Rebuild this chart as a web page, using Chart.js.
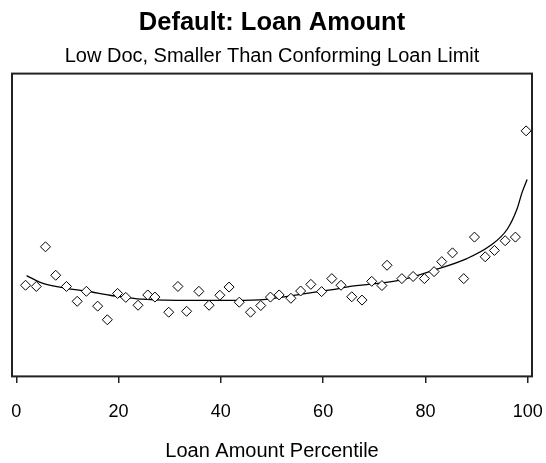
<!DOCTYPE html>
<html>
<head>
<meta charset="utf-8">
<script src="https://cdn.jsdelivr.net/npm/chart.js@4.4.0/dist/chart.umd.min.js"></script>
<style>
  html, body { margin: 0; padding: 0; background: #fff; }
  #wrap { width: 546px; height: 463px; }
</style>
</head>
<body>
<div id="wrap"><canvas id="myChart"></canvas></div>
<script>
// loan amount percentile bins and the observed default rate in each
const pctX = [1.8, 3.9, 5.7, 7.7, 9.8, 11.9, 13.7, 15.9, 17.8, 19.8,
              21.4, 23.8, 25.7, 27.1, 29.8, 31.6, 33.3, 35.7, 37.7, 39.8,
              41.6, 43.6, 45.8, 47.8, 49.7, 51.4, 53.7, 55.6, 57.6, 59.7,
              61.7, 63.5, 65.6, 67.6, 69.5, 71.5, 72.5, 75.4, 77.6, 79.8,
              81.7, 83.2, 85.3, 87.5, 89.6, 91.7, 93.5, 95.6, 97.6, 99.7];
const defaultRate = [3.01, 2.97, 4.28, 3.34, 2.97, 2.48, 2.81, 2.32, 1.87, 2.74,
                     2.61, 2.35, 2.69, 2.62, 2.12, 2.97, 2.15, 2.81, 2.35, 2.68,
                     2.95, 2.45, 2.12, 2.34, 2.62, 2.69, 2.58, 2.82, 3.04, 2.80,
                     3.23, 3.01, 2.63, 2.52, 3.14, 3.00, 3.67, 3.23, 3.30, 3.23,
                     3.46, 3.79, 4.08, 3.23, 4.60, 3.95, 4.16, 4.48, 4.60, 8.11];

// smoothed fit line
const fitX = [2.0, 5.2, 9.8, 13.7, 18.3, 21.5, 24.7, 29.0, 33.9, 40.0, 47.6, 51.6, 55.5,
              59.4, 63.3, 65.3, 75.1, 81.5, 88.1, 92.7, 96.0, 97.9, 98.9, 99.9];
const fitY = [3.33, 3.07, 2.91, 2.82, 2.68, 2.61, 2.55, 2.52, 2.51, 2.51, 2.53, 2.61, 2.71,
              2.81, 2.91, 2.97, 3.18, 3.50, 3.89, 4.32, 4.86, 5.52, 6.07, 6.50];

const xTicks = [0, 20, 40, 60, 80, 100];

const fontFamily = '"Liberation Sans", Arial, sans-serif';

// draw the frame round the plot area
const boxPlugin = {
    id: 'plotBox',
    afterDatasetsDraw(chart) {
        const a = chart.chartArea;
        const ctx = chart.ctx;
        ctx.save();
        ctx.strokeStyle = '#222';
        ctx.lineWidth = 2;
        ctx.strokeRect(a.left, a.top, a.right - a.left, a.bottom - a.top);
        ctx.restore();
    }
};

const ctx = document.getElementById('myChart').getContext('2d');
new Chart(ctx, {
    data: {
        datasets: [
            {
                type: 'scatter',
                label: 'Default rate',
                data: pctX.map((x, i) => ({ x: x, y: defaultRate[i] })),
                pointStyle: 'rectRot',
                pointRadius: 5,
                pointBackgroundColor: '#fff',
                pointBorderColor: '#000',
                pointBorderWidth: 1,
                clip: false
            },
            {
                type: 'line',
                label: 'Fit',
                data: fitX.map((x, i) => ({ x: x, y: fitY[i] })),
                borderColor: '#000',
                borderWidth: 1.3,
                pointRadius: 0,
                tension: 0.4,
                cubicInterpolationMode: 'monotone',
                fill: false
            }
        ]
    },
    options: {
        responsive: true,
        maintainAspectRatio: false,
        animation: false,
        layout: {
            padding: { left: 12, right: 14, top: 0, bottom: 0 }
        },
        plugins: {
            legend: { display: false },
            tooltip: { enabled: false },
            title: {
                display: true,
                text: 'Default: Loan Amount',
                color: '#000',
                font: { family: fontFamily, size: 25.5, weight: 'bold' },
                padding: { top: 8, bottom: 2 }
            },
            subtitle: {
                display: true,
                text: 'Low Doc, Smaller Than Conforming Loan Limit',
                color: '#000',
                font: { family: fontFamily, size: 20 },
                padding: { top: 4, bottom: 5 }
            }
        },
        scales: {
            x: {
                type: 'linear',
                min: -0.85,
                max: 100.85,
                afterBuildTicks: scale => {
                    scale.ticks = xTicks.map(v => ({ value: v }));
                },
                grid: {
                    drawOnChartArea: false,
                    color: '#222',
                    lineWidth: 1.5,
                    // long tick slot, only the first 7px drawn, leaves room above the labels
                    tickLength: 25,
                    tickBorderDash: [7, 40]
                },
                border: { display: false },
                ticks: {
                    color: '#000',
                    font: { family: fontFamily, size: 18 },
                    padding: 0,
                    maxRotation: 0
                },
                title: {
                    display: true,
                    text: 'Loan Amount Percentile',
                    color: '#000',
                    font: { family: fontFamily, size: 20 },
                    padding: { top: 16, bottom: 0 }
                }
            },
            y: {
                display: false,
                min: 0,
                max: 10
            }
        }
    },
    plugins: [boxPlugin]
});
</script>
</body>
</html>
